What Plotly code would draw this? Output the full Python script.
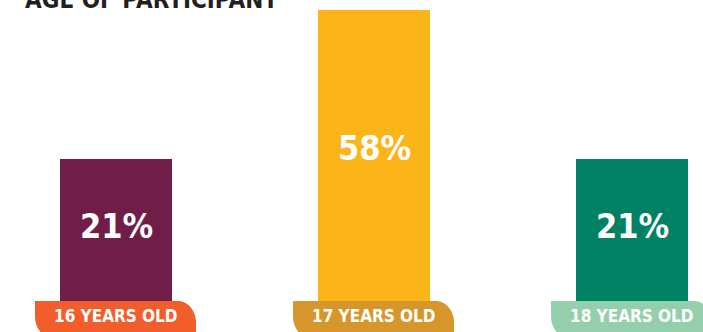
import plotly.graph_objects as go

# ---- data ----
categories = ["16 YEARS OLD", "17 YEARS OLD", "18 YEARS OLD"]
values = [21, 58, 21]
value_labels = ["21%", "58%", "21%"]
title_text = "AGE OF PARTICIPANT"

# ---- styles ----
bar_colors = ["#6e1e47", "#fbb519", "#008163"]
tab_colors = ["#f15d2b", "#d6962b", "#93cfaa"]
FONT = "DejaVu Sans Condensed, Liberation Sans Narrow, sans-serif"
PLINTH = -14.25          # bars rise from a plinth below the zero line
LABEL_FRAC = 0.525       # vertical placement of value label within bar

fig = go.Figure()
fig.add_trace(go.Bar(
    x=categories,
    y=[v - PLINTH for v in values],
    base=PLINTH,
    marker=dict(color=bar_colors, line=dict(width=0)),
    width=0.434,
    hoverinfo="skip",
    showlegend=False,
))

# tab path in pixels relative to (category, PLINTH)
tab_path = ("M -81,0 L 62,0 C 72,0 80,-10 80,-22 L 80,-40 "
            "L -57,-40 C -70,-40 -81,-29 -81,-16 Z")

shapes = []
annotations = []
for cat, v, lab, tc in zip(categories, values, value_labels, tab_colors):
    shapes.append(dict(
        type="path", xref="x", yref="y",
        xsizemode="pixel", ysizemode="pixel",
        xanchor=cat, yanchor=PLINTH,
        path=tab_path, fillcolor=tc, line=dict(width=0), layer="above",
    ))
    annotations.append(dict(
        x=cat, y=PLINTH, xref="x", yref="y", yshift=-15,
        text="<b>%s</b>" % cat, showarrow=False,
        xanchor="center", yanchor="middle",
        font=dict(family=FONT, size=17, color="white"),
    ))
    annotations.append(dict(
        x=cat, y=PLINTH + LABEL_FRAC * (v - PLINTH), xref="x", yref="y",
        text="<b>%s</b>" % lab, showarrow=False,
        xanchor="center", yanchor="middle",
        font=dict(family=FONT, size=34, color="white"),
    ))

annotations.append(dict(
    x=23 / 703, y=1, xref="paper", yref="paper", yshift=0,
    text="<b>%s</b>" % title_text, showarrow=False,
    xanchor="left", yanchor="middle",
    font=dict(family=FONT, size=24, color="#231f20"),
))

fig.update_layout(
    width=703, height=332,
    margin=dict(l=0, r=0, t=0, b=0),
    paper_bgcolor="white", plot_bgcolor="white",
    xaxis=dict(visible=False, range=[-0.4496, 2.275], fixedrange=True),
    yaxis=dict(visible=False, range=[-21.95, 60.5], fixedrange=True),
    shapes=shapes, annotations=annotations,
    bargap=0,
)

fig.write_html("out.html", config={"displayModeBar": False})
